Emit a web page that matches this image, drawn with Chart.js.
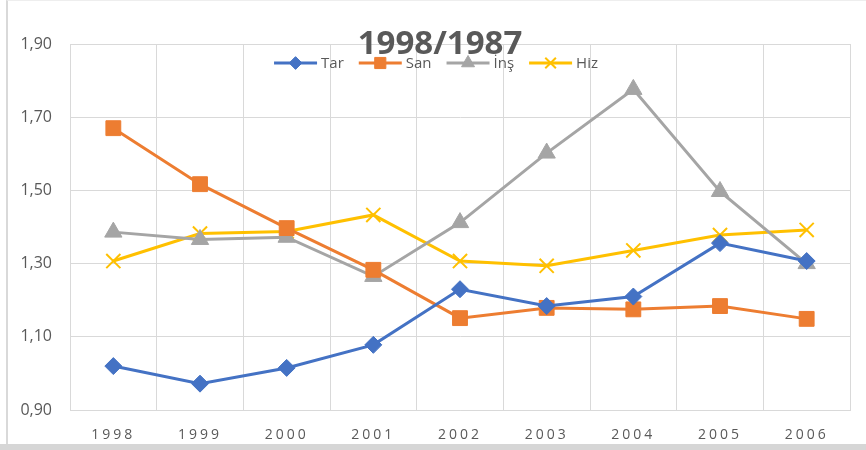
<!DOCTYPE html>
<html>
<head>
<meta charset="utf-8">
<script src="https://cdn.jsdelivr.net/npm/chart.js@4/dist/chart.umd.min.js"></script>
<style>
  html, body { margin: 0; padding: 0; background: #ffffff; }
  #wrap { position: relative; width: 866px; height: 450px; overflow: hidden; }
  #frame { position: absolute; left: 6px; top: 0; width: 860px; height: 444px;
           border-left: 2px solid #d9d9d9; border-top: 1px solid #eeeeee; box-sizing: border-box; pointer-events: none; }
  #band { position: absolute; left: 0; top: 444px; width: 866px; height: 6px; background: #d6d6d6; }
</style>
</head>
<body>
<div id="wrap">
  <canvas id="c" width="866" height="450"></canvas>
  <div id="frame"></div>
  <div id="band"></div>
</div>
<script>
const chartTitle = '1998/1987';
const years = ['1998','1999','2000','2001','2002','2003','2004','2005','2006'];
const seriesNames = ['Tar','San','İnş','Hiz'];
const tarValues = [1.02, 0.972, 1.015, 1.078, 1.23, 1.184, 1.21, 1.356, 1.307];
const sanValues = [1.67, 1.517, 1.397, 1.283, 1.151, 1.179, 1.175, 1.184, 1.149];
const insValues = [1.386, 1.366, 1.372, 1.265, 1.412, 1.602, 1.776, 1.497, 1.30];
const hizValues = [1.307, 1.382, 1.388, 1.433, 1.307, 1.294, 1.336, 1.378, 1.392];
const yTickValues = [0.90, 1.10, 1.30, 1.50, 1.70, 1.90];
const yTickLabels = ['0,90','1,10','1,30','1,50','1,70','1,90'];

class SpacedCategory extends Chart.CategoryScale {
  drawLabels(area) {
    const ctx = this.ctx;
    ctx.save();
    ctx.letterSpacing = '3px';
    super.drawLabels(area);
    ctx.restore();
  }
}
SpacedCategory.id = 'spacedCategory';
SpacedCategory.defaults = Chart.CategoryScale.defaults;
Chart.register(SpacedCategory);

const textColor = '#595959';
const gridColor = '#d9d9d9';

const styles = [
  { color: '#4472C4', point: 'rectRot', radius: 8.5, bw: 1 },
  { color: '#ED7D31', point: 'rect', radius: 10.5, bw: 1 },
  { color: '#A5A5A5', point: 'triangle', radius: 10, bw: 1 },
  { color: '#FFC000', point: 'crossRot', radius: 10, bw: 2 }
];
const allValues = [tarValues, sanValues, insValues, hizValues];

const datasets = allValues.map((vals, i) => ({
  label: seriesNames[i],
  data: vals,
  borderColor: styles[i].color,
  backgroundColor: styles[i].color,
  pointBackgroundColor: styles[i].color,
  pointBorderColor: styles[i].color,
  pointStyle: styles[i].point,
  pointRadius: styles[i].radius,
  pointHoverRadius: styles[i].radius,
  pointBorderWidth: styles[i].bw,
  borderWidth: 3,
  tension: 0,
  fill: false
}));

const overlayPlugin = {
  id: 'overlay',
  afterDraw(chart) {
    const ctx = chart.ctx;
    ctx.save();
    // legend
    ctx.font = '15px "Open Sans"';
    const lineLen = 43, gapText = 4, gapItem = 15, ly = 63;
    const widths = chart.data.datasets.map(d => ctx.measureText(d.label).width);
    let total = 0;
    widths.forEach((w, i) => { total += lineLen + gapText + w + (i < widths.length - 1 ? gapItem : 0); });
    let x = 436 - total / 2;
    chart.data.datasets.forEach((d, i) => {
      ctx.strokeStyle = d.borderColor;
      ctx.lineWidth = 3;
      ctx.beginPath();
      ctx.moveTo(x, ly);
      ctx.lineTo(x + lineLen, ly);
      ctx.stroke();
      ctx.fillStyle = d.borderColor;
      ctx.lineWidth = d.pointBorderWidth;
      Chart.helpers.drawPoint(ctx, { pointStyle: d.pointStyle, radius: d.pointRadius * 0.75, borderWidth: d.pointBorderWidth, rotation: 0 }, x + lineLen / 2, ly);
      ctx.fillStyle = textColor;
      ctx.textBaseline = 'middle';
      ctx.textAlign = 'left';
      ctx.fillText(d.label, x + lineLen + gapText, ly + 1);
      x += lineLen + gapText + widths[i] + gapItem;
    });
    // title
    ctx.font = 'bold 33px "Open Sans"';
    ctx.fillStyle = textColor;
    ctx.textAlign = 'center';
    ctx.textBaseline = 'alphabetic';
    ctx.fillText(chartTitle, 440, 54);
    ctx.restore();
  }
};

new Chart(document.getElementById('c'), {
  type: 'line',
  data: { labels: years, datasets: datasets },
  options: {
    responsive: false,
    animation: false,
    events: [],
    layout: { padding: { top: 44, right: 16, left: 8, bottom: 0 } },
    plugins: { legend: { display: false }, title: { display: false }, tooltip: { enabled: false } },
    scales: {
      x: {
        type: 'spacedCategory',
        offset: true,
        afterFit(s) { s.height = 40; },
        grid: { color: gridColor, lineWidth: 1, offset: true, drawTicks: false },
        border: { color: gridColor },
        ticks: { color: textColor, font: { family: 'Open Sans', size: 14 }, padding: 17, maxRotation: 0 }
      },
      y: {
        min: 0.9, max: 1.9,
        afterFit(s) { s.width = 62; },
        afterBuildTicks(s) { s.ticks = yTickValues.map(v => ({ value: v })); },
        grid: { color: gridColor, lineWidth: 1, drawTicks: false },
        border: { color: gridColor },
        ticks: {
          color: textColor,
          font: { family: 'Open Sans', size: 16 },
          padding: 18,
          callback: (v) => { const i = yTickValues.findIndex(t => Math.abs(t - v) < 1e-6); return i >= 0 ? yTickLabels[i] : ''; }
        }
      }
    }
  },
  plugins: [overlayPlugin]
});
</script>
</body>
</html>
